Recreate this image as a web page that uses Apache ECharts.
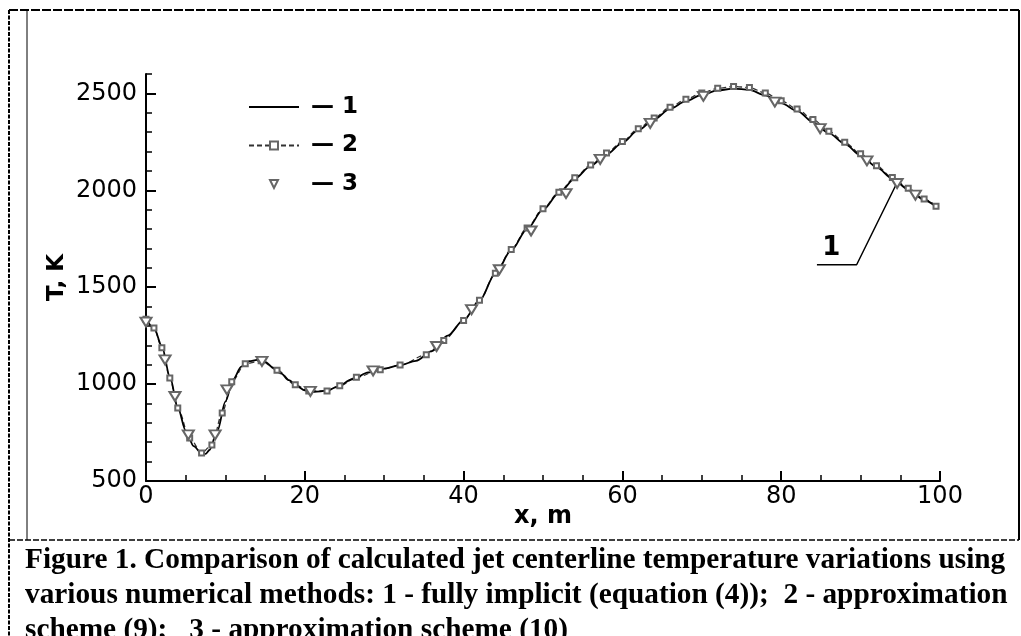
<!DOCTYPE html>
<html>
<head>
<meta charset="utf-8">
<script src="https://cdn.jsdelivr.net/npm/echarts@6/dist/echarts.min.js"></script>
<style>
html,body{margin:0;padding:0;background:#fff;}
#chart{width:1021px;height:636px;}
</style>
</head>
<body>
<div id="chart"></div>
<script>
// ---- data ----
// series 1: fully implicit (solid line)
const x1 = [0, 1, 2, 3, 4, 5, 6, 7, 7.5, 8, 9, 10, 11, 12, 13, 14, 15, 16, 17, 18, 19, 20, 21, 22, 23, 24, 26, 28, 30, 32, 34, 36, 38, 40, 42, 44, 46, 48, 50, 52, 54, 56, 58, 60, 62, 64, 66, 68, 70, 72, 74, 76, 78, 80, 82, 84, 86, 88, 90, 92, 94, 96, 98, 99.5];
const t1 = [1335, 1290, 1195, 1040, 880, 760, 680, 642, 640, 660, 760, 910, 1025, 1090, 1118, 1125, 1115, 1085, 1055, 1020, 990, 968, 960, 962, 970, 985, 1025, 1060, 1080, 1098, 1120, 1170, 1250, 1330, 1430, 1570, 1690, 1800, 1900, 1985, 2060, 2125, 2185, 2245, 2310, 2365, 2420, 2460, 2492, 2515, 2525, 2518, 2490, 2450, 2410, 2352, 2295, 2240, 2180, 2120, 2060, 2005, 1950, 1915];
// series 2: approximation scheme (9) (dashed line, squares)
const x2 = [0, 1, 2, 3, 4, 5.5, 7, 8.3, 9.6, 10.8, 12.5, 14.5, 16.5, 18.8, 20.5, 22.8, 24.4, 26.5, 29.5, 32, 35.3, 37.5, 40, 42, 44, 46, 48, 50, 52, 54, 56, 58, 60, 62, 64, 66, 68, 70, 72, 74, 76, 78, 80, 82, 84, 86, 88, 90, 92, 94, 96, 98, 99.5];
const t2 = [1335, 1290, 1187, 1032, 877, 722, 645, 686, 851, 1012, 1105, 1120, 1072, 996, 965, 965, 991, 1035, 1074, 1098, 1151, 1225, 1328, 1432, 1572, 1695, 1805, 1905, 1990, 2065, 2130, 2192, 2252, 2318, 2373, 2428, 2470, 2502, 2526, 2536, 2530, 2502, 2462, 2420, 2365, 2305, 2248, 2188, 2127, 2066, 2010, 1955, 1918];
// series 3: approximation scheme (10) (triangles)
const x3 = [0, 2.4, 3.65, 5.33, 8.7, 10.2, 14.6, 20.7, 28.6, 36.6, 41, 44.5, 48.5, 52.9, 57.2, 63.5, 70.2, 79.2, 84.9, 90.8, 94.6, 96.9];
const t3 = [1320, 1125, 936, 738, 738, 970, 1117, 962, 1068, 1194, 1384, 1590, 1790, 1983, 2159, 2345, 2485, 2455, 2318, 2152, 2035, 1975];
// leader line for the "1" callout
const leaderX = [84.5, 89.5, 94.6];
const leaderT = [1616, 1616, 2040];
const calloutX = [86.3];
const calloutT = [1700];
const calloutText = '1';
// axes / ticks
const seriesNames = ['1', '2', '3'];
const yMajorTicks = [500, 1000, 1500, 2000, 2500];
const xTitle = 'x, m';
const yTitle = 'T, K';
const caption = 'Figure 1. Comparison of calculated jet centerline temperature variations using\nvarious numerical methods: 1 - fully implicit (equation (4));  2 - approximation\nscheme (9);   3 - approximation scheme (10)';

const zip = (xs, ys) => xs.map((x, i) => [x, ys[i]]);

const font = 'DejaVu Sans';
const chart = echarts.init(document.getElementById('chart'), null, {renderer: 'canvas'});

const option = {
  animation: false,
  backgroundColor: '#fff',
  title: {
    text: caption,
    left: 25, top: 543, padding: 0,
    textStyle: {fontFamily: 'Liberation Serif', fontWeight: 'bold', fontSize: 29.3, lineHeight: 35, color: '#000'}
  },
  grid: {left: 146, right: 81, top: 74, bottom: 155, containLabel: false},
  legend: {
    orient: 'vertical',
    left: 243, top: 88,
    itemWidth: 50, itemHeight: 10, itemGap: 10.5,
    data: [{name: seriesNames[0], itemStyle: {opacity: 0}}, seriesNames[1], seriesNames[2]],
    formatter: n => '— ' + n,
    textStyle: {fontFamily: font, fontWeight: 'bold', fontSize: 23, lineHeight: 28, color: '#000', padding: [0, 0, 0, 7]}
  },
  xAxis: [{
    type: 'value', min: 0, max: 100, interval: 20,
    name: xTitle, nameLocation: 'middle', nameGap: 24, nameMoveOverlap: false,
    nameTextStyle: {fontFamily: font, fontWeight: 'bold', fontSize: 24, color: '#000'},
    axisLine: {lineStyle: {color: '#000', width: 2}},
    axisTick: {inside: true, length: 10, lineStyle: {color: '#000', width: 2}},
    minorTick: {show: true, splitNumber: 4, length: 6, lineStyle: {color: '#000', width: 1.5}},
    axisLabel: {fontFamily: font, fontSize: 24, color: '#000', margin: 4},
    splitLine: {show: false}
  }],
  yAxis: [{
    type: 'value', min: 500, max: 2600, interval: 500,
    name: yTitle, nameLocation: 'middle', nameGap: 77, nameMoveOverlap: false,
    nameTextStyle: {fontFamily: font, fontWeight: 'bold', fontSize: 23, color: '#000'},
    axisLine: {show: true, lineStyle: {color: '#000', width: 2}},
    axisTick: {show: true, inside: true, length: 10, customValues: yMajorTicks, lineStyle: {color: '#000', width: 2}},
    axisLabel: {fontFamily: font, fontSize: 24, color: '#000', margin: 9, customValues: yMajorTicks, formatter: v => String(v)},
    splitLine: {show: false}
  }, {
    type: 'value', min: 500, max: 2600, interval: 100, position: 'left',
    axisLine: {show: false},
    axisTick: {show: true, inside: true, length: 6, lineStyle: {color: '#000', width: 1.5}},
    axisLabel: {show: false},
    splitLine: {show: false}
  }],
  series: [{
    name: seriesNames[1], type: 'line', data: zip(x2, t2),
    smooth: 0.3, smoothMonotone: 'x',
    symbol: 'emptyRect', symbolSize: 5, showSymbol: true,
    lineStyle: {color: '#333', width: 1.3, type: [5, 3]},
    itemStyle: {color: '#666', borderWidth: 1}
  }, {
    name: seriesNames[0], type: 'line', data: zip(x1, t1),
    smooth: 0.3, smoothMonotone: 'x',
    symbol: 'none',
    lineStyle: {color: '#000', width: 1.8},
    itemStyle: {color: '#000'}
  }, {
    name: seriesNames[2], type: 'line', data: zip(x3, t3),
    symbol: 'emptyTriangle', symbolRotate: 180, symbolSize: [11, 9],
    lineStyle: {width: 0, opacity: 0},
    itemStyle: {color: '#666', borderWidth: 1}
  }, {
    name: 'leader', type: 'line', data: zip(leaderX, leaderT),
    symbol: 'none', silent: true,
    lineStyle: {color: '#000', width: 1.5}
  }, {
    name: 'callout', type: 'scatter', data: zip(calloutX, calloutT),
    symbolSize: 0, silent: true,
    itemStyle: {opacity: 1},
    label: {show: true, position: 'inside', formatter: calloutText, fontFamily: font, fontWeight: 'bold', fontSize: 26, color: '#000', opacity: 1}
  }],
  graphic: [
    {type: 'line', shape: {x1: 9, y1: 10, x2: 1019, y2: 10}, style: {stroke: '#000', lineWidth: 2, lineDash: [9, 2]}, silent: true},
    {type: 'line', shape: {x1: 9, y1: 10, x2: 9, y2: 636}, style: {stroke: '#000', lineWidth: 2, lineDash: [4, 1.5]}, silent: true},
    {type: 'line', shape: {x1: 1019, y1: 10, x2: 1019, y2: 540}, style: {stroke: '#000', lineWidth: 2}, silent: true},
    {type: 'line', shape: {x1: 9, y1: 540, x2: 1019, y2: 540}, style: {stroke: '#000', lineWidth: 1.5, lineDash: [6, 2]}, silent: true},
    {type: 'line', shape: {x1: 27, y1: 10, x2: 27, y2: 540}, style: {stroke: '#000', lineWidth: 1}, silent: true}
  ]
};
chart.setOption(option);
</script>
</body>
</html>
